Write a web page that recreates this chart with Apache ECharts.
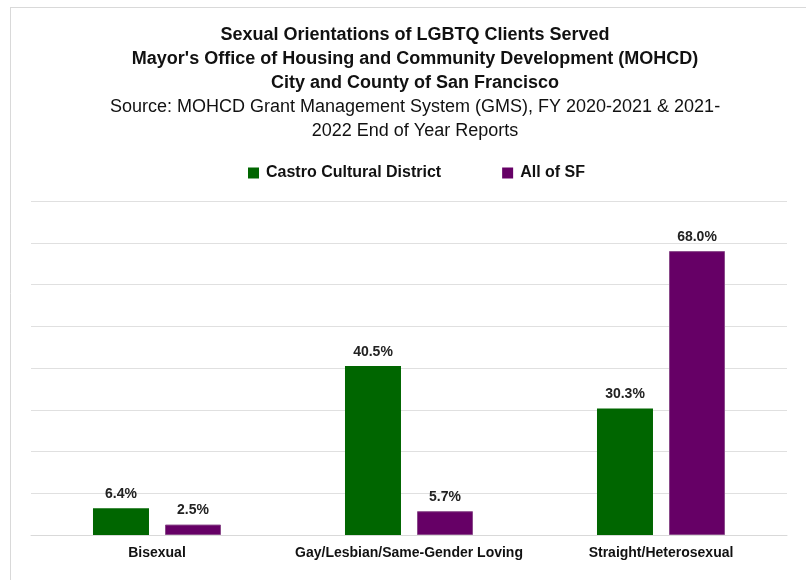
<!DOCTYPE html>
<html>
<head>
<meta charset="utf-8">
<script src="https://cdn.jsdelivr.net/npm/echarts@6/dist/echarts.min.js"></script>
<style>html,body{margin:0;padding:0;background:#fff}#c{width:806px;height:580px}</style>
</head>
<body>
<div id="c"></div>
<script>
const categories = ['Bisexual', 'Gay/Lesbian/Same-Gender Loving', 'Straight/Heterosexual'];
const castroValues = [6.4, 40.5, 30.3];
const allSFValues = [2.5, 5.7, 68.0];
const seriesNames = ['Castro Cultural District', 'All of SF'];

const FONT = '"Liberation Sans", Arial, sans-serif';
const chart = echarts.init(document.getElementById('c'), null, {renderer: 'canvas'});
const labelOpt = {
  show: true, position: 'top', distance: 7,
  formatter: p => p.value.toFixed(1) + '%',
  fontFamily: FONT, fontWeight: 'bold', fontSize: 14, color: '#222'
};
chart.setOption({
  animation: false,
  backgroundColor: '#fff',
  title: {
    text: 'Sexual Orientations of LGBTQ Clients Served\nMayor\'s Office of Housing and Community Development (MOHCD)\nCity and County of San Francisco',
    subtext: 'Source: MOHCD Grant Management System (GMS), FY 2020-2021 & 2021-\n2022 End of Year Reports',
    left: 415, textAlign: 'center', top: 23, padding: 0, itemGap: 0,
    textStyle: {fontFamily: FONT, fontWeight: 'bold', fontSize: 18, lineHeight: 24, color: '#111'},
    subtextStyle: {fontFamily: FONT, fontWeight: 'normal', fontSize: 18, lineHeight: 24, color: '#111'}
  },
  legend: {
    data: seriesNames, top: 165, left: 248, itemWidth: 11, itemHeight: 11, itemGap: 61,
    icon: 'rect', padding: 0,
    itemStyle: {borderWidth: 0},
    textStyle: {fontFamily: FONT, fontWeight: 'bold', fontSize: 16, color: '#111', padding: [0, 0, 0, 2]}
  },
  graphic: [
    {type: 'line', shape: {x1: 10.5, y1: 7, x2: 10.5, y2: 580}, style: {stroke: '#d9d9d9', lineWidth: 1}},
    {type: 'line', shape: {x1: 10, y1: 7.5, x2: 806, y2: 7.5}, style: {stroke: '#d9d9d9', lineWidth: 1}}
  ],
  grid: {left: 31, right: 19, top: 201, bottom: 45, containLabel: false},
  xAxis: {
    type: 'category', data: categories,
    axisLine: {show: true, lineStyle: {color: '#d9d9d9'}},
    axisTick: {show: false},
    axisLabel: {interval: 0, margin: 11, fontFamily: FONT, fontWeight: 'bold', fontSize: 14, color: '#111'}
  },
  yAxis: {
    type: 'value', min: 0, max: 80, interval: 10,
    axisLabel: {show: false}, axisLine: {show: false}, axisTick: {show: false},
    splitLine: {lineStyle: {color: '#e0e0e0', width: 1}}
  },
  series: [
    {name: seriesNames[0], type: 'bar', data: castroValues, barWidth: 56, barGap: '28.6%',
     itemStyle: {color: '#006600'}, label: labelOpt},
    {name: seriesNames[1], type: 'bar', data: allSFValues, barWidth: 56,
     itemStyle: {color: '#660066', borderColor: '#8a4a8a', borderWidth: 1}, label: labelOpt}
  ]
});
</script>
</body>
</html>
